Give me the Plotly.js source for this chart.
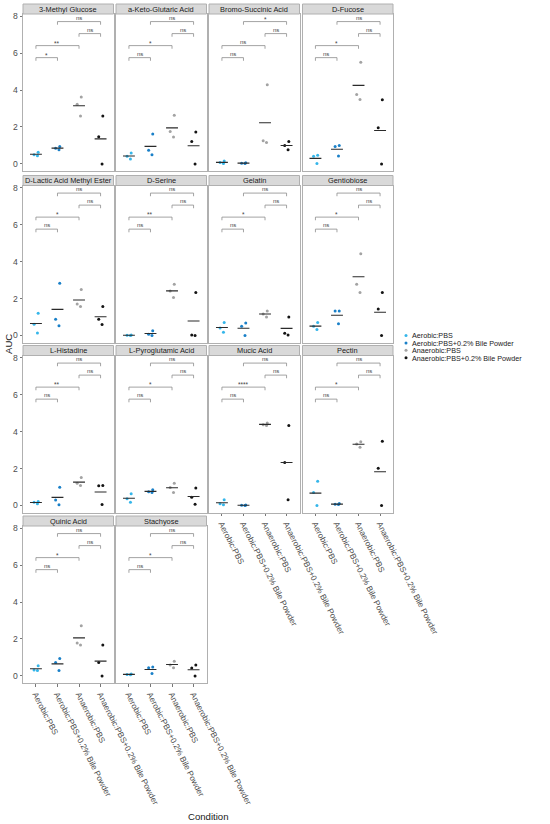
<!DOCTYPE html>
<html>
<head>
<meta charset="utf-8">
<script src="https://cdn.plot.ly/plotly-3.0.1.min.js"></script>
<style>
  html, body { margin: 0; padding: 0; background: #ffffff; }
  #chart { width: 550px; height: 824px; }
</style>
</head>
<body>
<div id="chart"></div>
<script>
// ---------------- DATA ----------------
const conditions = [
  'Aerobic:PBS',
  'Aerobic:PBS+0.2% Bile Powder',
  'Anaerobic:PBS',
  'Anaerobic:PBS+0.2% Bile Powder'
];

const substrates = [
  '3-Methyl Glucose', 'a-Keto-Glutaric Acid', 'Bromo-Succinic Acid', 'D-Fucose',
  'D-Lactic Acid Methyl Ester', 'D-Serine', 'Gelatin', 'Gentiobiose',
  'L-Histadine', 'L-Pyroglutamic Acid', 'Mucic Acid', 'Pectin',
  'Quinic Acid', 'Stachyose'
];

// AUC replicates per substrate
const aerobicPBS = [
  [0.63, 0.50, 0.45], [0.60, 0.42, 0.27], [0.16, 0.08, 0.02], [0.47, 0.42, 0.02],
  [1.20, 0.61, 0.13], [0.02, 0.01, 0.00], [0.70, 0.41, 0.18], [0.70, 0.50, 0.32],
  [0.22, 0.18, 0.09], [0.63, 0.36, 0.18], [0.31, 0.09, 0.04], [1.31, 0.70, 0.00],
  [0.55, 0.32, 0.30], [0.11, 0.08, 0.07]
];
const aerobicBile = [
  [0.95, 0.85, 0.77], [1.62, 0.74, 0.50], [0.07, 0.04, 0.02], [1.00, 0.95, 0.43],
  [2.83, 0.88, 0.52], [0.25, 0.07, 0.00], [0.68, 0.50, 0.00], [1.32, 1.32, 0.63],
  [0.99, 0.29, 0.04], [0.85, 0.74, 0.70], [0.02, 0.01, 0.00], [0.10, 0.07, 0.05],
  [0.95, 0.73, 0.29], [0.48, 0.45, 0.13]
];
const anaerobicPBS = [
  [3.62, 3.23, 2.60], [2.63, 1.76, 1.46], [4.28, 1.25, 1.16], [5.50, 3.76, 3.49],
  [2.49, 1.70, 1.57], [2.77, 2.40, 2.06], [1.32, 1.16, 1.00], [4.42, 2.77, 2.33],
  [1.51, 1.20, 1.08], [1.20, 0.97, 0.70], [4.46, 4.37, 4.32], [3.45, 3.33, 3.15],
  [2.72, 1.78, 1.68], [0.80, 0.60, 0.45]
];
const anaerobicBile = [
  [2.60, 1.47, 0.00], [1.73, 1.22, 0.00], [1.22, 1.00, 0.77], [3.47, 1.96, 0.00],
  [1.56, 0.88, 0.59], [2.33, 0.02, 0.00], [1.00, 0.12, 0.03], [2.33, 1.43, 0.00],
  [1.08, 1.06, 0.05], [0.94, 0.45, 0.07], [4.33, 2.32, 0.31], [3.47, 2.01, 0.00],
  [1.68, 0.73, 0.00], [0.59, 0.43, 0.00]
];

// significance labels: [1 vs 2, 1 vs 3, 3 vs 4, 2 vs 4]
const sigLabels = [
  ['*', '**', 'ns', 'ns'], ['ns', '*', 'ns', 'ns'], ['ns', 'ns', 'ns', '*'], ['ns', '*', 'ns', 'ns'],
  ['ns', '*', 'ns', 'ns'], ['ns', '**', 'ns', 'ns'], ['ns', '*', 'ns', 'ns'], ['ns', '*', 'ns', 'ns'],
  ['ns', '**', 'ns', 'ns'], ['ns', '*', 'ns', 'ns'], ['ns', '****', 'ns', 'ns'], ['ns', '*', 'ns', 'ns'],
  ['ns', '*', 'ns', 'ns'], ['ns', '*', 'ns', 'ns']
];
const comparisons = [[0, 1], [0, 2], [2, 3], [1, 3]];
const yTicks = [0, 2, 4, 6, 8];

// ---------------- STYLE / LAYOUT ----------------
const groups = [aerobicPBS, aerobicBile, anaerobicPBS, anaerobicBile];
const colors = ['#35b6ea', '#1a80c8', '#a3a3a3', '#141414'];
const W = 550, H = 824;
const colX = [[23, 113.5], [116, 206.5], [209, 299.5], [302.5, 393]];
const rowY = [[14, 171], [185.5, 342.5], [355.5, 512.5], [526, 683]];
const stripH = 10;
const bracketY = [5.75, 6.4, 7.05, 7.7];
const tickDrop = 0.17;
const FONT = 'Liberation Sans, Arial, Helvetica, sans-serif';

const data = [];
const shapes = [];
const annotations = [];
const layout = {
  width: W, height: H,
  margin: {l: 0, r: 0, t: 0, b: 0},
  paper_bgcolor: '#ffffff', plot_bgcolor: '#ffffff',
  font: {family: FONT, size: 8, color: '#1a1a1a'},
  showlegend: true,
  legend: {
    x: 386 / W, xanchor: 'left', y: 1 - 321 / H, yanchor: 'top',
    bgcolor: 'rgba(0,0,0,0)', borderwidth: 0,
    font: {family: FONT, size: 7.2, color: '#1a1a1a'},
    tracegroupgap: 0, itemclick: false, itemdoubleclick: false
  },
  boxmode: 'overlay',
  shapes: shapes,
  annotations: annotations
};

const mean = a => a.reduce((s, v) => s + v, 0) / a.length;
const px2fx = p => p / W;
const px2fy = p => 1 - p / H;

substrates.forEach((name, i) => {
  const row = Math.floor(i / 4), col = i % 4;
  const n = i + 1;
  const xa = 'x' + (n === 1 ? '' : n), ya = 'y' + (n === 1 ? '' : n);
  const xKey = 'xaxis' + (n === 1 ? '' : n), yKey = 'yaxis' + (n === 1 ? '' : n);
  const showX = (i + 4 >= substrates.length);
  const showY = (col === 0);

  layout[xKey] = {
    domain: [px2fx(colX[col][0]), px2fx(colX[col][1])],
    anchor: ya,
    type: 'category',
    categoryorder: 'array', categoryarray: conditions,
    range: [-0.6, 3.6],
    showgrid: false, zeroline: false,
    showline: true, mirror: true, linecolor: '#b0b0b0', linewidth: 1,
    ticks: showX ? 'outside' : '', ticklen: 2.5, tickwidth: 0.8, tickcolor: '#555555',
    showticklabels: showX, tickangle: 63,
    tickfont: {family: FONT, size: 8.2, color: '#4d4d4d'},
    fixedrange: true
  };
  layout[yKey] = {
    domain: [px2fy(rowY[row][1]), px2fy(rowY[row][0])],
    anchor: xa,
    range: [-0.38, 8.11],
    tickvals: yTicks, ticktext: yTicks.map(String),
    showgrid: false, zeroline: false,
    showline: true, mirror: true, linecolor: '#b0b0b0', linewidth: 1,
    ticks: showY ? 'outside' : '', ticklen: 2.5, tickwidth: 0.8, tickcolor: '#555555',
    showticklabels: showY,
    tickfont: {family: FONT, size: 8.6, color: '#4d4d4d'},
    fixedrange: true
  };

  // strip
  shapes.push({
    type: 'rect', xref: 'paper', yref: 'paper',
    x0: px2fx(colX[col][0]), x1: px2fx(colX[col][1]),
    y0: px2fy(rowY[row][0]), y1: px2fy(rowY[row][0] - stripH),
    fillcolor: '#d9d9d9', line: {color: '#b0b0b0', width: 1}, layer: 'above'
  });
  annotations.push({
    xref: 'paper', yref: 'paper',
    x: px2fx((colX[col][0] + colX[col][1]) / 2), y: px2fy(rowY[row][0] - stripH / 2),
    xanchor: 'center', yanchor: 'middle', showarrow: false,
    text: name, font: {family: FONT, size: 7.4, color: '#1a1a1a'}
  });

  // points + means
  groups.forEach((g, k) => {
    data.push({
      type: 'box', x: g[i].map(() => conditions[k]), y: g[i],
      xaxis: xa, yaxis: ya,
      boxpoints: 'all', jitter: 0.55, pointpos: 0,
      fillcolor: 'rgba(0,0,0,0)', line: {width: 0, color: 'rgba(0,0,0,0)'},
      whiskerwidth: 0,
      marker: {color: colors[k], size: 3},
      showlegend: false, hoverinfo: 'skip'
    });
  });
  data.push({
    type: 'scatter', mode: 'markers',
    x: conditions, y: groups.map(g => mean(g[i])),
    xaxis: xa, yaxis: ya,
    marker: {symbol: 'line-ew', size: 8.5, color: '#2a2a2a', line: {width: 1.1, color: '#2a2a2a'}},
    showlegend: false, hoverinfo: 'skip'
  });

  // significance brackets
  comparisons.forEach((pr, b) => {
    const yb = bracketY[b];
    data.push({
      type: 'scatter', mode: 'lines',
      x: [conditions[pr[0]], conditions[pr[0]], conditions[pr[1]], conditions[pr[1]]],
      y: [yb - tickDrop, yb, yb, yb - tickDrop],
      xaxis: xa, yaxis: ya,
      line: {color: '#8c8c8c', width: 0.8},
      showlegend: false, hoverinfo: 'skip'
    });
    const lab = sigLabels[i][b];
    annotations.push({
      xref: xa, yref: ya, x: (pr[0] + pr[1]) / 2, y: yb,
      xanchor: 'center', yanchor: 'bottom', showarrow: false,
      yshift: lab === 'ns' ? -1 : -3,
      text: lab, font: {family: FONT, size: lab === 'ns' ? 6 : 6.5, color: '#444444'}
    });
  });
});

// legend entries
conditions.forEach((c, k) => {
  data.push({
    type: 'scatter', mode: 'markers', x: [null], y: [null],
    xaxis: 'x', yaxis: 'y', name: c,
    marker: {color: colors[k], size: 3}, showlegend: true, hoverinfo: 'skip'
  });
});

// axis titles
annotations.push({
  xref: 'paper', yref: 'paper', x: px2fx(8), y: px2fy(344),
  xanchor: 'center', yanchor: 'middle', showarrow: false, textangle: -90,
  text: 'AUC', font: {family: FONT, size: 9.6, color: '#1a1a1a'}
});
annotations.push({
  xref: 'paper', yref: 'paper', x: px2fx(208), y: px2fy(816),
  xanchor: 'center', yanchor: 'middle', showarrow: false,
  text: 'Condition', font: {family: FONT, size: 9.6, color: '#1a1a1a'}
});

const gd = document.getElementById('chart');
Plotly.newPlot(gd, data, layout, {displayModeBar: false, staticPlot: true}).then(() => {
  // compact legend spacing like ggplot
  const items = gd.querySelectorAll('.legend .traces');
  let y0 = null;
  items.forEach((it, idx) => {
    const m = /translate\(\s*([-\d.]+)[ ,]+([-\d.]+)/.exec(it.getAttribute('transform') || '');
    if (y0 === null) y0 = m ? parseFloat(m[2]) : 0;
    it.setAttribute('transform', 'translate(0,' + (y0 + idx * 7.4) + ')');
    const t = it.querySelector('text.legendtext');
    if (t) t.setAttribute('x', 26);
  });
});
</script>
</body>
</html>
